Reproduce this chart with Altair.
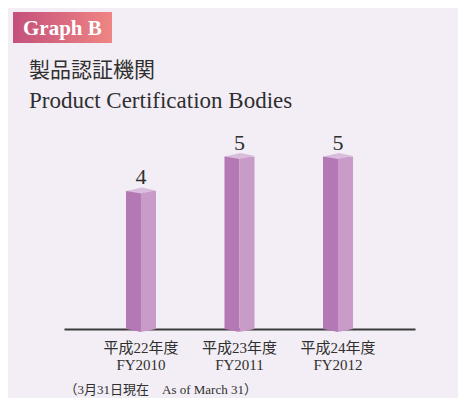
import altair as alt
import pandas as pd

# ---- data ----
categories_jp = ["平成22年度", "平成23年度", "平成24年度"]
categories_en = ["FY2010", "FY2011", "FY2012"]
values = [4, 5, 5]

title_jp = "製品認証機関"
title_en = "Product Certification Bodies"
badge_label = "Graph B"
footnote = "（3月31日現在　As of March 31）"

cats = [f"{j}|{e}" for j, e in zip(categories_jp, categories_en)]
df = pd.DataFrame({"cat": cats, "value": values, "zero": [0] * len(values)})
faces = pd.DataFrame({
    "cat": [c for c in cats for _ in (0, 1)],
    "value": [v for v in values for _ in (0, 1)],
    "face": ["L", "R"] * len(values),
})
one = pd.DataFrame({"k": [0]})

SERIF = "'Liberation Serif', 'Noto Sans CJK JP', serif"
JP = "'Noto Sans CJK JP', sans-serif"
BG = "#F3EEF5"
TXT = "#2f2f2f"
LEFT_C = "#B478B4"
RIGHT_C = "#C89BC9"
CAP_C = "#DABCDD"

x = alt.X(
    "cat:N", sort=None,
    scale=alt.Scale(paddingOuter=0.629, paddingInner=0.695),
    axis=alt.Axis(
        title=footnote, labelExpr="split(datum.label, '|')", labelAngle=0,
        ticks=False, tickSize=0, labelPadding=11, labelFont=SERIF,
        labelFontSize=15, labelColor=TXT, labelLineHeight=17,
        domainColor="#3a3a3a", domainWidth=2,
        titleFont=SERIF, titleFontSize=13, titleFontWeight="normal",
        titleColor=TXT, titleAnchor="start", titleAlign="left",
        titleX=0, titleY=64, titleBaseline="alphabetic",
    ),
)
yscale = alt.Scale(domain=[0, 6], nice=False, zero=True)
y = alt.Y("value:Q", scale=yscale, axis=None, stack=None)

bars = alt.Chart(faces).mark_bar().encode(
    x=x, y=y,
    xOffset=alt.XOffset("face:N", scale=alt.Scale(paddingInner=0, paddingOuter=0)),
    color=alt.Color("face:N", scale=alt.Scale(domain=["L", "R"], range=[LEFT_C, RIGHT_C]), legend=None),
)

base = alt.Chart(df)
cap = base.mark_point(
    shape="M -1 0 L 0.07 -0.23 L 1 -0.03 L 0 0.17 Z", size=900,
    filled=True, opacity=1, strokeWidth=0, color=CAP_C,
).encode(x=x, y=alt.Y("value:Q", scale=yscale, axis=None))
bot_l = base.mark_point(
    shape="M -1 0 L 0 0 L 0 0.2 Z", size=900,
    filled=True, opacity=1, strokeWidth=0, color=LEFT_C,
).encode(x=x, y=alt.Y("zero:Q", scale=yscale, axis=None))
bot_r = base.mark_point(
    shape="M 0 0 L 1 0 L 0 0.2 Z", size=900,
    filled=True, opacity=1, strokeWidth=0, color=RIGHT_C,
).encode(x=x, y=alt.Y("zero:Q", scale=yscale, axis=None))
labels = base.mark_text(
    dy=-7, baseline="alphabetic", font=SERIF, fontSize=22, color=TXT,
).encode(x=x, y=alt.Y("value:Q", scale=yscale, axis=None), text="value:Q")

dec = alt.Chart(one)
badge = dec.mark_rect(
    color=alt.Gradient(
        gradient="linear", x1=0, x2=1, y1=0, y2=0,
        stops=[alt.GradientStop(color="#C4507B", offset=0),
               alt.GradientStop(color="#EF8583", offset=1)],
    )
).encode(x=alt.value(-51), x2=alt.value(48), y=alt.value(-110), y2=alt.value(-79))
badge_text = dec.mark_text(
    align="left", baseline="alphabetic", font=SERIF, fontSize=21,
    fontWeight="bold", color="white",
).encode(x=alt.value(-41), y=alt.value(-87), text=alt.value(badge_label))
t_jp = dec.mark_text(
    align="left", baseline="alphabetic", font=JP, fontSize=21, color=TXT,
).encode(x=alt.value(-35), y=alt.value(-45), text=alt.value(title_jp))
t_en = dec.mark_text(
    align="left", baseline="alphabetic", font=SERIF, fontSize=23, color=TXT,
).encode(x=alt.value(-35), y=alt.value(-14), text=alt.value(title_en))

chart = alt.layer(
    bars, bot_l, bot_r, cap, labels, badge, badge_text, t_jp, t_en
).properties(
    width=351, height=207,
    padding={"left": 56, "top": 114, "right": 43, "bottom": 69},
    autosize=alt.AutoSizeParams(type="none"),
    background=BG,
).configure_view(stroke=None)

chart.save("out.html", embed_options={"renderer": "svg", "actions": False})
